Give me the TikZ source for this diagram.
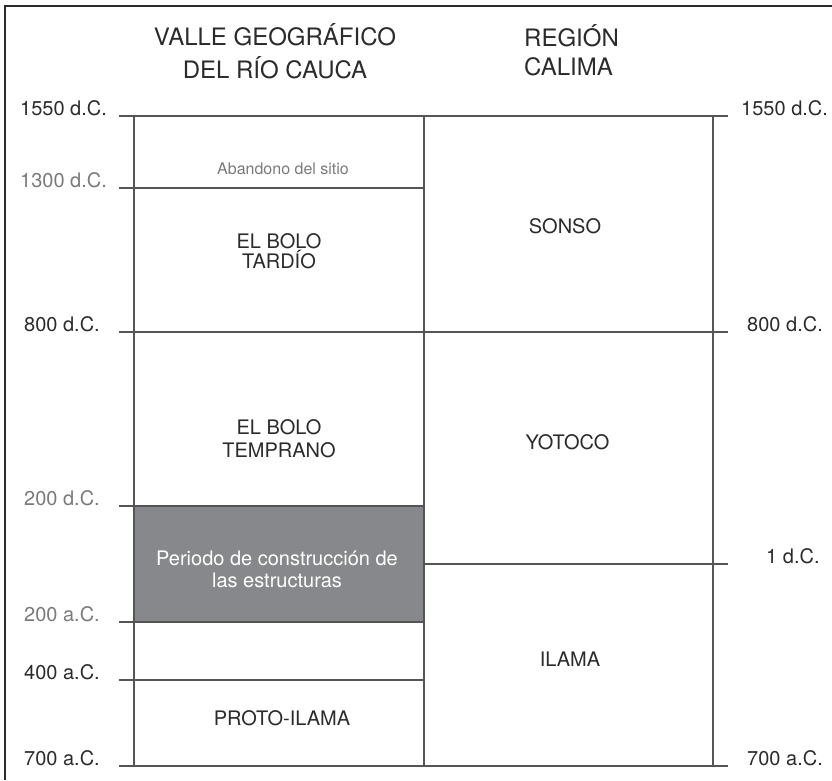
\documentclass[tikz,border=0pt]{standalone}
\usepackage{fontspec}
\setmainfont{TeX Gyre Heros}
\usepackage{tikz}

\definecolor{ink}{HTML}{2B2B2B}
\definecolor{pale}{HTML}{7A7A7A}
\definecolor{rulegray}{HTML}{555555}
\definecolor{boxgray}{HTML}{87888B}

\tikzset{
  frame/.style={draw=ink, line width=2pt},
  rule/.style={draw=rulegray, line width=1.5pt},
  shadebox/.style={fill=boxgray},
  datel/.style={anchor=base west, inner sep=0pt, text=ink, font=\fontsize{20}{24}\selectfont},
  paledate/.style={datel, text=pale},
  head/.style={inner sep=0pt, text=ink, font=\fontsize{24}{33}\selectfont},
  phase/.style={inner sep=0pt, align=center, text=ink, font=\fontsize{20}{20}\selectfont}
}

\begin{document}
\begin{tikzpicture}[x=1pt,y=-1pt]
\useasboundingbox (0,0) rectangle (832,780);
% only the top and left edges of the frame are inside the picture
\draw [frame] (5,780) -- (5,6) -- (832,6);
% construction period
\fill [shadebox] (134,506) rectangle (424,622);
% headings
\node [head, align=center] (valle) at (275,51.5) {VALLE GEOGRÁFICO\\DEL RÍO CAUCA};
\node [head, align=left, anchor=west, font=\fontsize{24}{29}\selectfont] (calima) at (524,50) {REGIÓN\\CALIMA};
% columns
\draw [rule] (134,116) -- (134,766);
\draw [rule] (424,116) -- (424,766);
\draw [rule] (713,116) -- (713,766);
% time levels
\draw [rule] (119,116) -- (728,116);
\draw [rule] (119,188) -- (424,188);
\draw [rule] (119,332) -- (728,332);
\draw [rule] (119,506) -- (424,506);
\draw [rule] (424,564) -- (728,564);
\draw [rule] (119,622) -- (424,622);
\draw [rule] (119,680) -- (424,680);
\draw [rule] (119,766) -- (728,766);
% dates, left
\node [datel] (l1550) at (20,115) {1550 d.C.};
\node [paledate] (l1300) at (20,187) {1300 d.C.};
\node [datel] (l800) at (24,331) {800 d.C.};
\node [paledate] (l200dc) at (24,505) {200 d.C.};
\node [paledate] (l200ac) at (24,621) {200 a.C.};
\node [datel] (l400) at (24,679) {400 a.C.};
\node [datel] (l700) at (24,765) {700 a.C.};
% dates, right
\node [datel] (r1550) at (741,115) {1550 d.C.};
\node [datel] (r800) at (747,331) {800 d.C.};
\node [datel] (r1) at (766,563) {1 d.C.};
\node [datel] (r700) at (747,765) {700 a.C.};
% phases, Cauca valley
\node [phase, anchor=base, text=pale, font=\fontsize{16}{16}\selectfont] (aband) at (283,174) {Abandono del sitio};
\node [phase] (tardio) at (279,251) {EL BOLO\\TARDÍO};
\node [phase, font=\fontsize{20}{23.5}\selectfont] (temprano) at (279,438.5) {EL BOLO\\TEMPRANO};
\node [phase, text=white, font=\fontsize{20}{22}\selectfont] (constr) at (277,569) {Periodo de construcción de\\las estructuras};
\node [phase, anchor=base] (proto) at (282,725) {PROTO-ILAMA};
% phases, Calima
\node [phase, anchor=base] (sonso) at (565,233) {SONSO};
\node [phase, anchor=base] (yotoco) at (567.5,449) {YOTOCO};
\node [phase, anchor=base] (ilama) at (570,666) {ILAMA};
\end{tikzpicture}
\end{document}
